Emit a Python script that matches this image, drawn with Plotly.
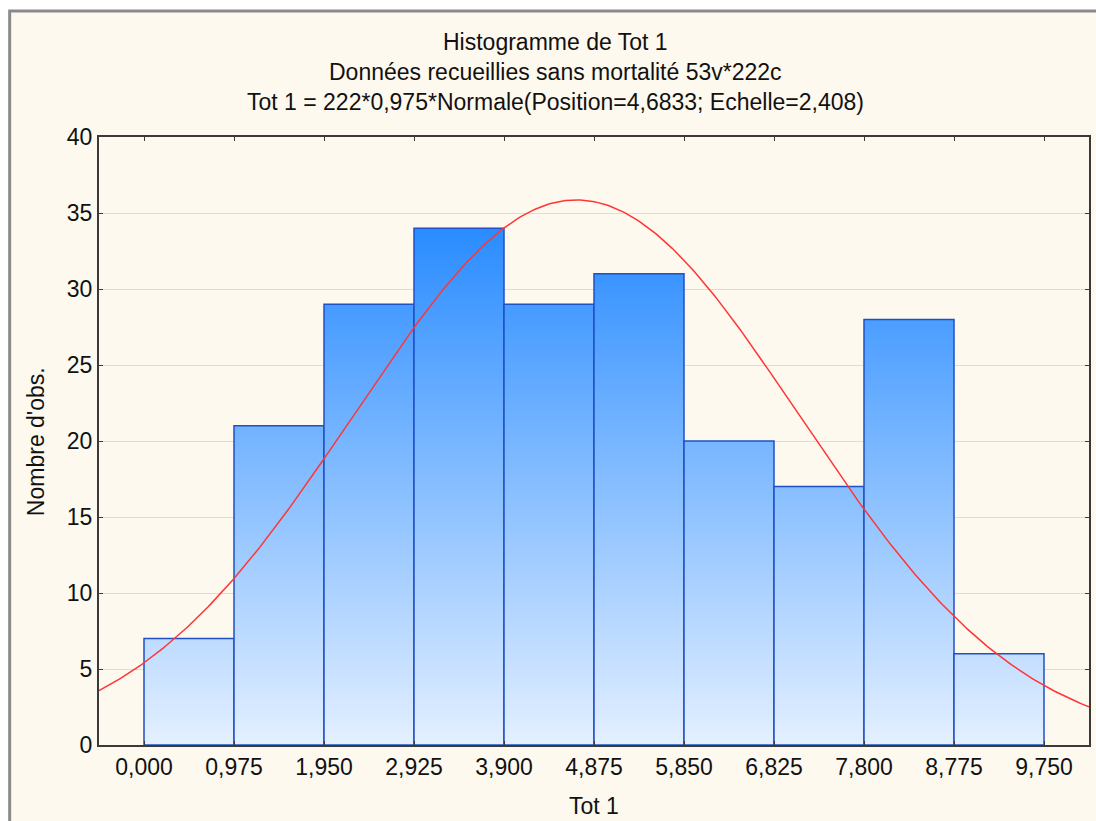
import numpy as np
import plotly.graph_objects as go

# Histogram of "Tot 1": bin edges, counts per bin and axis labels
bin_width = 0.975
bin_starts = [0.0, 0.975, 1.95, 2.925, 3.9, 4.875, 5.85, 6.825, 7.8, 8.775]
counts = [7, 21, 29, 34, 29, 31, 20, 17, 28, 6]
x_tick_vals = [0.0, 0.975, 1.95, 2.925, 3.9, 4.875, 5.85, 6.825, 7.8, 8.775, 9.75]
x_tick_text = ["0,000", "0,975", "1,950", "2,925", "3,900", "4,875",
               "5,850", "6,825", "7,800", "8,775", "9,750"]
y_tick_vals = [0, 5, 10, 15, 20, 25, 30, 35, 40]

# Fitted normal curve parameters (from the subtitle)
n_obs = 222
mu = 4.6833
sigma = 2.408

title_lines = [
    "Histogramme de Tot 1",
    "Données recueillies sans mortalité 53v*222c",
    "Tot 1 = 222*0,975*Normale(Position=4,6833; Echelle=2,408)",
]

FONT = "Liberation Sans, Arial, sans-serif"
FS = 23
x_range = [-0.4875, 10.2375]

fig = go.Figure()

# Each bar: closed rectangle with a vertical gradient fill and blue outline
for x0, c in zip(bin_starts, counts):
    x1 = x0 + bin_width
    fig.add_trace(go.Scatter(
        x=[x0, x0, x1, x1, x0], y=[0, c, c, 0, 0], mode="lines",
        line=dict(color="#1f50c8", width=1.5),
        fill="toself",
        fillgradient=dict(type="vertical", start=0, stop=max(counts),
                          colorscale=[[0, "#e4f0ff"], [1, "#2a8cff"]]),
        hoverinfo="skip", showlegend=False,
    ))

# Normal density scaled to counts
xs = np.linspace(x_range[0], x_range[1], 400)
ys = n_obs * bin_width * np.exp(-0.5 * ((xs - mu) / sigma) ** 2) / (sigma * np.sqrt(2 * np.pi))
fig.add_trace(go.Scatter(
    x=xs, y=ys, mode="lines", line=dict(color="#ff3535", width=1.5),
    hoverinfo="skip", showlegend=False,
))

# Plot area geometry in pixels
W, H = 1096, 821
L, R, T, B = 99, 1091, 137, 745
pw, ph = R - L, B - T

def px_x(x):
    return (x - L) / pw

def px_y(y):
    return (B - y) / ph

annotations = []
for i, line in enumerate(title_lines):
    annotations.append(dict(
        text=line, xref="paper", yref="paper", x=px_x(556), y=px_y(42 + 30 * i),
        xanchor="center", yanchor="middle", showarrow=False,
        font=dict(family=FONT, size=FS, color="#111111"),
    ))
annotations.append(dict(
    text="Nombre d'obs.", xref="paper", yref="paper", x=px_x(36), y=px_y(442),
    xanchor="center", yanchor="middle", textangle=-90, showarrow=False,
    font=dict(family=FONT, size=FS, color="#111111"),
))
annotations.append(dict(
    text="Tot 1", xref="paper", yref="paper", x=px_x(595), y=px_y(806),
    xanchor="center", yanchor="middle", showarrow=False,
    font=dict(family=FONT, size=FS, color="#111111"),
))

# Cream frame with grey border
shapes = [dict(
    type="rect", xref="paper", yref="paper", layer="below",
    x0=px_x(9.5), x1=px_x(1110), y0=px_y(840), y1=px_y(11),
    fillcolor="#fef9ee", line=dict(color="#8a8a8a", width=3),
)]

fig.update_layout(
    width=W, height=H,
    margin=dict(l=L, r=W - R, t=T, b=H - B),
    paper_bgcolor="white", plot_bgcolor="white",
    font=dict(family=FONT, size=FS, color="#111111"),
    annotations=annotations, shapes=shapes,
)
fig.update_xaxes(
    range=x_range, tickvals=x_tick_vals, ticktext=x_tick_text,
    showgrid=False, zeroline=False,
    showline=True, linecolor="#3a3a3a", linewidth=2, mirror="ticks",
    ticks="inside", ticklen=4, tickcolor="#3a3a3a",
    tickfont=dict(family=FONT, size=FS, color="#111111"),
)
fig.update_yaxes(
    range=[0, 40], tickvals=y_tick_vals,
    showgrid=True, gridcolor="#dcdcdc", gridwidth=1, zeroline=False,
    showline=True, linecolor="#3a3a3a", linewidth=2, mirror="ticks",
    ticks="inside", ticklen=4, tickcolor="#3a3a3a",
    tickfont=dict(family=FONT, size=FS, color="#111111"),
)

fig.write_html("out.html")
